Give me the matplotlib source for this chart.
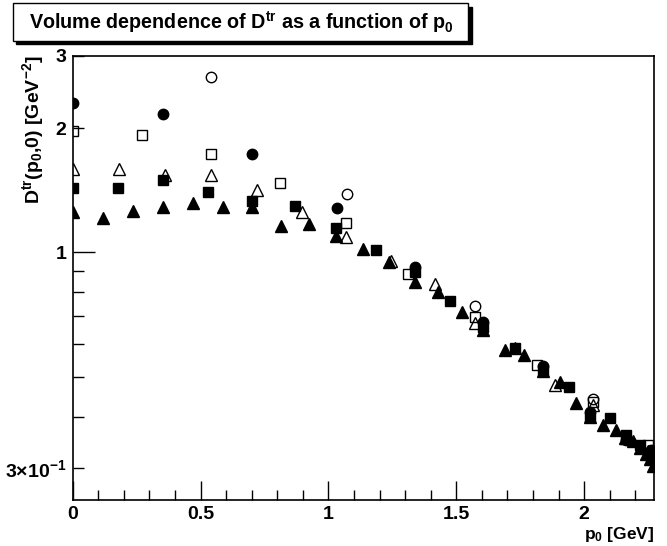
import matplotlib
matplotlib.use('Agg')
import matplotlib.pyplot as plt
from matplotlib.patches import Rectangle
from matplotlib.ticker import FixedLocator, FixedFormatter, NullFormatter, MultipleLocator, FuncFormatter

plt.rcParams['font.family'] = ['Liberation Sans', 'DejaVu Sans']
plt.rcParams['font.weight'] = 'bold'
plt.rcParams['mathtext.fontset'] = 'custom'
plt.rcParams['mathtext.rm'] = 'Liberation Sans:bold'
plt.rcParams['mathtext.it'] = 'Liberation Sans:bold'
plt.rcParams['mathtext.bf'] = 'Liberation Sans:bold'
plt.rcParams['mathtext.default'] = 'rm'

# data (p0 in GeV, D^tr in GeV^-2)
ftri_x = [0.0, 0.117, 0.237, 0.354, 0.471, 0.589, 0.702, 0.814, 0.925, 1.030,
          1.134, 1.238, 1.338, 1.429, 1.521, 1.605, 1.690, 1.765, 1.840, 1.905,
          1.969, 2.022, 2.074, 2.123, 2.163, 2.192, 2.220, 2.240, 2.258, 2.268]
ftri_y = [1.256, 1.210, 1.263, 1.287, 1.316, 1.290, 1.292, 1.162, 1.173, 1.099,
          1.021, 0.947, 0.848, 0.802, 0.717, 0.650, 0.579, 0.564, 0.515, 0.486,
          0.431, 0.400, 0.382, 0.371, 0.355, 0.348, 0.335, 0.325, 0.315, 0.303]

otri_x = [0.0, 0.182, 0.362, 0.541, 0.722, 0.898, 1.070, 1.243, 1.416, 1.573,
          1.730, 1.886, 2.035, 2.160, 2.250]
otri_y = [1.593, 1.593, 1.541, 1.540, 1.420, 1.252, 1.093, 0.954, 0.840, 0.675,
          0.585, 0.477, 0.427, 0.355, 0.330]

fsq_x = [0.0, 0.177, 0.354, 0.530, 0.702, 0.869, 1.030, 1.186, 1.338, 1.475,
         1.605, 1.729, 1.840, 1.941, 2.022, 2.101, 2.163, 2.218, 2.257]
fsq_y = [1.433, 1.433, 1.499, 1.399, 1.336, 1.299, 1.146, 1.011, 0.896, 0.763,
         0.660, 0.585, 0.520, 0.472, 0.400, 0.396, 0.361, 0.341, 0.323]

osq_x = [0.0, 0.271, 0.541, 0.810, 1.070, 1.312, 1.573, 1.814, 2.035, 2.250]
osq_y = [1.965, 1.929, 1.733, 1.471, 1.178, 0.888, 0.698, 0.533, 0.434, 0.341]

fcir_x = [0.0, 0.354, 0.700, 1.032, 1.338, 1.605, 1.840, 2.022, 2.163, 2.262]
fcir_y = [2.31, 2.17, 1.73, 1.283, 0.922, 0.678, 0.530, 0.411, 0.351, 0.332]

ocir_x = [0.541, 1.071, 1.573, 2.035]
ocir_y = [2.66, 1.389, 0.740, 0.440]

ytick_vals = [0.3, 1, 2, 3]
ytick_labels = [r'3$\times$10$^{-1}$', '1', '2', '3']

W, H = 667, 546
fig = plt.figure(figsize=(W / 100, H / 100), dpi=100)
ax = fig.add_axes([72.7 / W, 1 - 500 / H, (654.3 - 72.7) / W, (500 - 55.7) / H])

ax.plot(ftri_x, ftri_y, '^', color='black', ms=8, mew=1, ls='none')
ax.plot(otri_x, otri_y, '^', mfc='none', mec='black', ms=8, mew=1, ls='none')
ax.plot(fsq_x, fsq_y, 's', color='black', ms=7, mew=1, ls='none')
ax.plot(osq_x, osq_y, 's', mfc='none', mec='black', ms=7, mew=1, ls='none')
ax.plot(fcir_x, fcir_y, 'o', color='black', ms=7.5, mew=1, ls='none')
ax.plot(ocir_x, ocir_y, 'o', mfc='none', mec='black', ms=7.5, mew=1, ls='none')

ax.set_yscale('log')
ax.set_xlim(0, 2.274)
ax.set_ylim(0.251, 3.0)

# ROOT-like ticks: inside, only bottom and left
ax.xaxis.set_major_locator(MultipleLocator(0.5))
ax.xaxis.set_minor_locator(MultipleLocator(0.1))
ax.xaxis.set_major_formatter(FuncFormatter(lambda v, p: '%g' % v))
ax.yaxis.set_major_locator(FixedLocator(ytick_vals))
ax.yaxis.set_major_formatter(FixedFormatter(ytick_labels))
ax.yaxis.set_minor_locator(FixedLocator([0.4, 0.5, 0.6, 0.7, 0.8, 0.9]))
ax.yaxis.set_minor_formatter(NullFormatter())
ax.tick_params(axis='both', which='both', direction='in', top=False, right=False,
               labelsize=14, width=1)
ax.tick_params(axis='x', which='major', length=14, pad=4)
ax.tick_params(axis='x', which='minor', length=7)
ax.tick_params(axis='y', which='major', length=8, pad=4.5)
ax.tick_params(axis='y', which='minor', length=8)
ax.yaxis.get_major_ticks()[1].tick1line.set_markersize(16)
for s in ax.spines.values():
    s.set_linewidth(1.2)
for lab in ax.get_xticklabels() + ax.get_yticklabels():
    lab.set_fontweight('bold')

# axis titles placed like ROOT (right / top aligned)
fig.text(654 / W, 1 - 546 / H + 0.004, r'p$_{0}$ [GeV]', ha='right', va='bottom',
         fontsize=12.5, fontweight='bold')
fig.text(33 / W, 1 - 55 / H, r'D$^{tr}$(p$_{0}$,0) [GeV$^{-2}$]', rotation=90,
         ha='center', va='top', fontsize=14, fontweight='bold')

# title box with shadow
bx0, by0, bx1, by1 = 12.7, 3.3, 468, 40.5
fig.patches.append(Rectangle(((bx0 + 3.5) / W, 1 - (by1 + 3.5) / H), (bx1 - bx0) / W,
                             (by1 - by0) / H, transform=fig.transFigure,
                             facecolor='black', edgecolor='black', zorder=1))
fig.patches.append(Rectangle((bx0 / W, 1 - by1 / H), (bx1 - bx0) / W,
                             (by1 - by0) / H, transform=fig.transFigure,
                             facecolor='white', edgecolor='black', lw=1, zorder=2))
fig.text(241.5 / W, 1 - 22 / H,
         r'Volume dependence of D$^{tr}$ as a function of p$_{0}$',
         ha='center', va='center', fontsize=14.2, fontweight='bold', zorder=3)

fig.savefig('out.png', dpi=100)
